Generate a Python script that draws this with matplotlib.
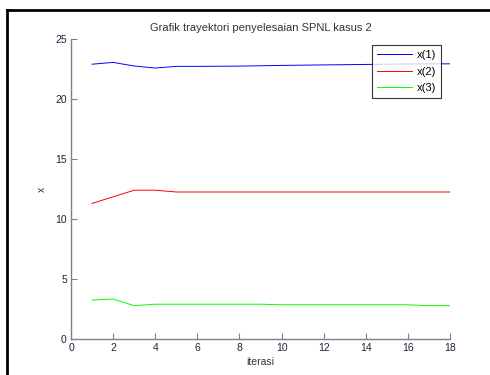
import matplotlib
matplotlib.use("Agg")
import matplotlib.pyplot as plt
from matplotlib.lines import Line2D

plt.rcParams['font.family'] = ['Liberation Sans', 'DejaVu Sans']

# iterations and trajectory of each unknown
iterasi = list(range(1, 19))
x1 = [22.9, 23.05, 22.75, 22.58, 22.72, 22.72, 22.73, 22.74, 22.77, 22.8,
      22.82, 22.84, 22.86, 22.88, 22.9, 22.92, 22.93, 22.93]
x2 = [11.3, 11.85, 12.4, 12.4, 12.25, 12.25, 12.25, 12.25, 12.25, 12.25,
      12.25, 12.25, 12.25, 12.25, 12.25, 12.25, 12.25, 12.25]
x3 = [3.25, 3.33, 2.78, 2.9, 2.9, 2.9, 2.9, 2.9, 2.9, 2.85,
      2.85, 2.85, 2.85, 2.85, 2.85, 2.85, 2.78, 2.78]
names = ['x(1)', 'x(2)', 'x(3)']

fig = plt.figure(figsize=(4.9, 3.75), dpi=100)
ax = fig.add_axes([0.1449, 0.096, 0.7735, 0.8])

ax.plot(iterasi, x1, color='#0000ff', lw=0.7, label=names[0])
ax.plot(iterasi, x2, color='#ff0000', lw=0.7, label=names[1])
ax.plot(iterasi, x3, color='#00ff00', lw=0.7, label=names[2])

ax.set_xlim(0, 18)
ax.set_ylim(0, 25)
ax.set_xticks(range(0, 19, 2))
ax.set_yticks(range(0, 26, 5))
for s in ['top', 'right']:
    ax.spines[s].set_visible(False)
for s in ['left', 'bottom']:
    ax.spines[s].set_color('#808080')
    ax.spines[s].set_linewidth(1.0)
ax.tick_params(direction='in', length=4, width=0.8, color='#808080',
               labelsize=7.5, labelcolor='#202040', pad=3)

ax.set_title('Grafik trayektori penyelesaian SPNL kasus 2', fontsize=8,
             color='#333333', pad=6)
ax.set_xlabel('iterasi', fontsize=7.5, color='#333333', labelpad=3)
ax.set_ylabel('x', fontsize=7.5, color='#333333', labelpad=6)

leg = ax.legend(loc='upper right', bbox_to_anchor=(0.976, 0.98), fontsize=8,
                frameon=True, fancybox=False, borderpad=0.45,
                handlelength=3.2, labelspacing=0.6, handletextpad=0.4,
                borderaxespad=0)
leg.get_frame().set_edgecolor('black')
leg.get_frame().set_linewidth(0.8)

# black border lines on the left and top of the figure
fig.add_artist(Line2D([7 / 490, 7 / 490], [0, 1 - 10 / 375], color='black',
                      lw=2, transform=fig.transFigure))
fig.add_artist(Line2D([7 / 490, 1], [1 - 10 / 375, 1 - 10 / 375], color='black',
                      lw=2, transform=fig.transFigure))

fig.savefig('out.png', dpi=100)
